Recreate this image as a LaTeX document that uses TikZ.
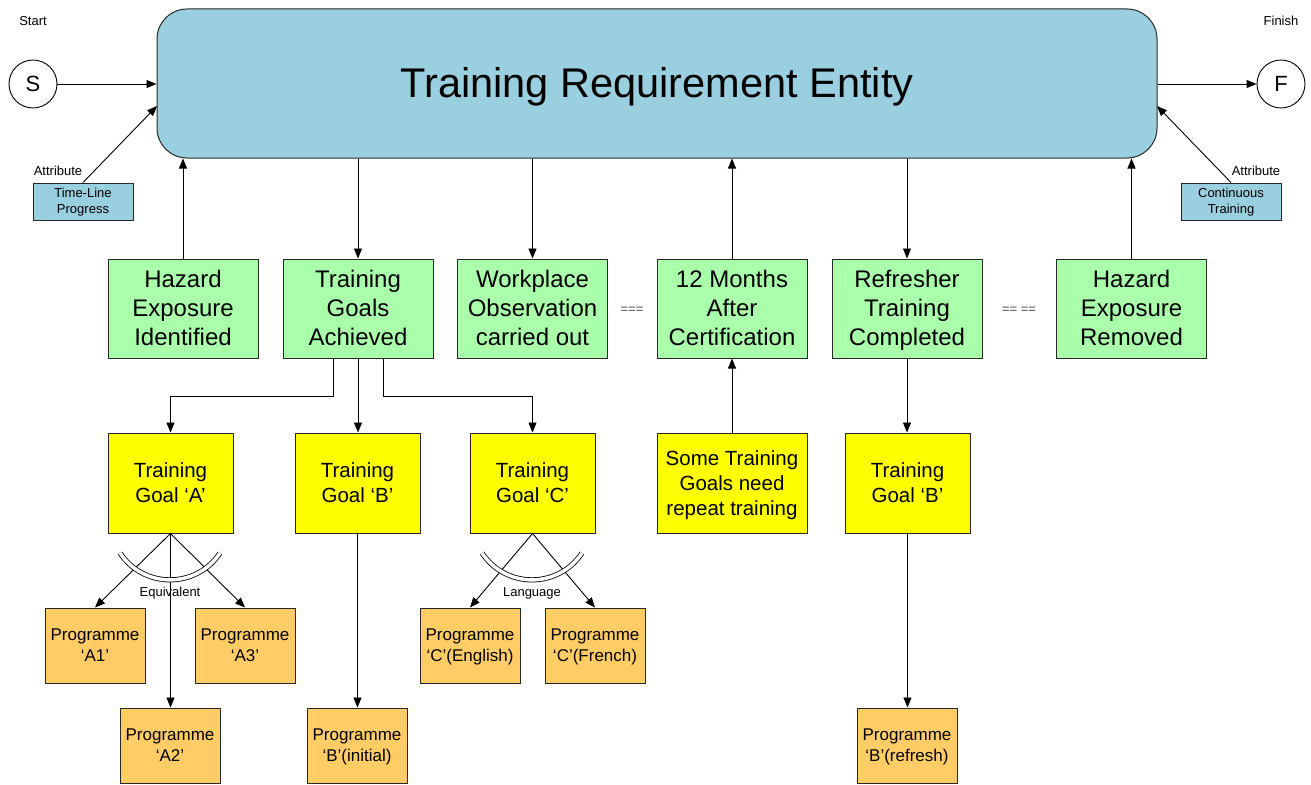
\documentclass[tikz,border=0pt]{standalone}
\usepackage{fontspec}
\setmainfont{Liberation Sans}
\usetikzlibrary{arrows.meta}
\definecolor{entityfill}{RGB}{153,207,222}
\definecolor{greenfill}{RGB}{170,255,170}
\definecolor{yellowfill}{RGB}{255,255,0}
\definecolor{orangefill}{RGB}{255,204,102}
\definecolor{edge}{RGB}{40,40,40}
% invisible rules that fix the height of the first and the depth of the last line
\newcommand\ts{\vrule width 0pt height .86\baselineskip depth 0pt}
\newcommand\botstrut{\vrule width 0pt height 0pt depth .3\baselineskip}
\tikzset{
  arr/.style={draw=black, line width=0.9, -{Triangle[length=10,width=8]}},
  struts/.style={execute at end node=\botstrut},
  entity/.style={draw=edge, line width=1, fill=entityfill, rounded corners=30,
    minimum width=1000, minimum height=149, inner sep=0, text height=28, text depth=0,
    font=\fontsize{41.5}{48}\selectfont},
  endpoint/.style={circle, draw=black, line width=0.9, fill=white, minimum size=48, inner sep=0,
    font=\fontsize{22}{26}\selectfont},
  attrbox/.style={draw=edge, line width=1, fill=entityfill, minimum width=100, minimum height=37,
    inner sep=0, align=center, struts, font=\fontsize{13}{16}\selectfont},
  eventbox/.style={draw=edge, line width=1, fill=greenfill, minimum width=150, minimum height=99,
    inner sep=0, align=center, struts, font=\fontsize{24}{29}\selectfont},
  goalbox/.style={draw=edge, line width=1, fill=yellowfill, minimum width=125, minimum height=100,
    inner sep=0, align=center, struts, font=\fontsize{20.5}{25}\selectfont},
  progbox/.style={draw=edge, line width=1, fill=orangefill, minimum width=100, minimum height=75,
    inner sep=0, align=center, struts, font=\fontsize{17}{21}\selectfont},
  small/.style={inner sep=0, font=\fontsize{13}{16}\selectfont},
  gap/.style={inner sep=0, text=black!70, font=\fontsize{13}{15}\selectfont},
  pair/.style={draw=black, line width=0.8, double=white, double distance=3.5},
}
\begin{document}
\begin{tikzpicture}[x=1pt, y=-1pt]
\useasboundingbox[fill=white] (0,0) rectangle (1311,784);

% entity and start / finish
\node[entity] (main) at (657,83.5) {Training Requirement Entity};
\node[endpoint] (s) at (33,84) {S};
\node[endpoint] (f) at (1281,84) {F};
\node[small] (start) at (33,21) {Start};
\node[small] (finish) at (1281,21) {Finish};
\draw[arr] (s) -- (s -| main.west);
\draw[arr] (main.east |- f) -- (f);

% attributes
\node[attrbox] (tl) at (83,201.5) {\ts Time-Line\\Progress};
\node[attrbox] (ct) at (1231,201.5) {\ts Continuous\\Training};
\node[small] (attl) at (58,171) {Attribute};
\node[small] (attr) at (1256,171) {Attribute};
\coordinate (mainl) at (157,106);
\coordinate (mainr) at (1157,106);
\draw[arr] (tl.north) -- (mainl);
\draw[arr] (ct.north) -- (mainr);

% events
\node[eventbox] (hei) at (183,308.5) {\ts Hazard\\Exposure\\Identified};
\node[eventbox] (tga) at (358,308.5) {\ts Training\\Goals\\Achieved};
\node[eventbox] (woc) at (532.5,308.5) {\ts Workplace\\Observation\\carried out};
\node[eventbox] (tmc) at (732,308.5) {\ts 12 Months\\After\\Certification};
\node[eventbox] (rtc) at (907,308.5) {\ts Refresher\\Training\\Completed};
\node[eventbox] (her) at (1131.5,308.5) {\ts Hazard\\Exposure\\Removed};
\node[gap] (gap1) at (632,310) {===};
\node[gap] (gap2) at (1019,310) {== ==};

\draw[arr] (hei.north) -- (hei.north |- main.south);
\draw[arr] (main.south -| tga.north) -- (tga.north);
\draw[arr] (main.south -| woc.north) -- (woc.north);
\draw[arr] (tmc.north) -- (tmc.north |- main.south);
\draw[arr] (main.south -| rtc.north) -- (rtc.north);
\draw[arr] (her.north) -- (her.north |- main.south);

% goals
\node[goalbox] (ga) at (170.5,483) {\ts Training\\Goal ‘A’};
\node[goalbox] (gb) at (357.5,483) {\ts Training\\Goal ‘B’};
\node[goalbox] (gc) at (532.5,483) {\ts Training\\Goal ‘C’};
\node[goalbox, minimum width=150] (srt) at (732,483) {\ts Some Training\\Goals need\\repeat training};
\node[goalbox] (gbr) at (907.5,483) {\ts Training\\Goal ‘B’};

\draw[arr] ([xshift=-25]tga.south) -- ++(0,38) -| (ga.north);
\draw[arr] (tga.south) -- (tga.south |- gb.north);
\draw[arr] ([xshift=25]tga.south) -- ++(0,38) -| (gc.north);
\draw[arr] (srt.north) -- (tmc.south);
\draw[arr] (rtc.south) -- (rtc.south |- gbr.north);

% programmes
\node[progbox] (pa1) at (95,645.5) {\ts Programme\\‘A1’};
\node[progbox] (pa3) at (245,645.5) {\ts Programme\\‘A3’};
\node[progbox] (pa2) at (170,745.5) {\ts Programme\\‘A2’};
\node[progbox] (pbi) at (357,745.5) {\ts Programme\\‘B’(initial)};
\node[progbox] (pce) at (470,645.5) {\ts Programme\\‘C’(English)};
\node[progbox] (pcf) at (595,645.5) {\ts Programme\\‘C’(French)};
\node[progbox] (pbr) at (907,745.5) {\ts Programme\\‘B’(refresh)};

\draw[arr] (ga.south) -- (pa1.north);
\draw[arr] (ga.south) -- (pa3.north);
\draw[arr] (ga.south) -- (ga.south |- pa2.north);
\draw[arr] (gb.south) -- (gb.south |- pbi.north);
\draw[arr] (gc.south) -- (pce.north);
\draw[arr] (gc.south) -- (pcf.north);
\draw[arr] (gbr.south) -- (gbr.south |- pbr.north);

% alternative-choice arcs
\draw[pair] (120,553) .. controls (143.7,588.8) and (196.3,588.8) .. (220,553);
\draw[pair] (482,553) .. controls (505.7,588.8) and (558.3,588.8) .. (582,553);
\node[small] (equiv) at (170,593) {Equivalent};
\node[small] (lang) at (532,593) {Language};
\end{tikzpicture}
\end{document}
